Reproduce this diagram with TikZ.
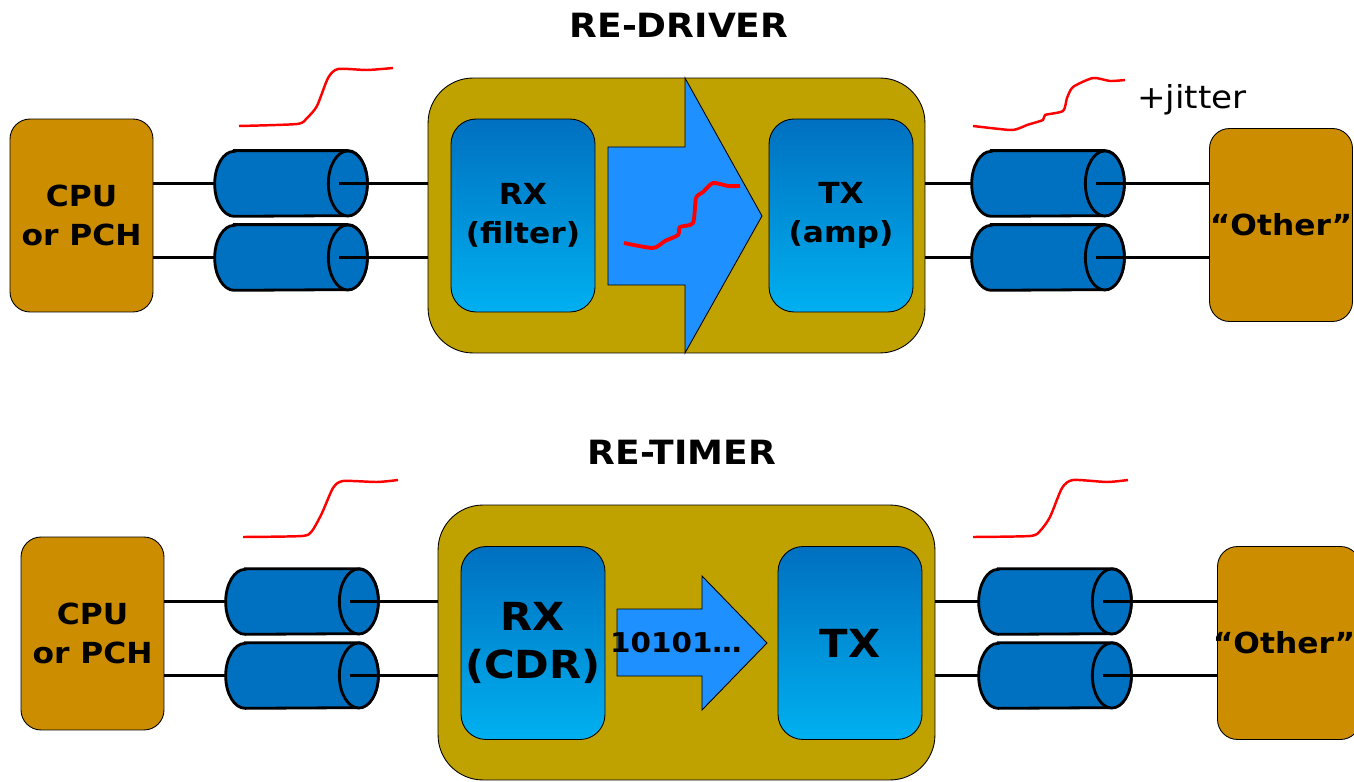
\documentclass[tikz,border=0pt]{standalone}
\usepackage{fontspec}
\setmainfont{DejaVu Sans}[FakeStretch=1.08]
\usepackage{tikz}
\usetikzlibrary{calc}
\definecolor{chipgold}{RGB}{204, 142, 0}
\definecolor{boxolive}{RGB}{191, 162, 0}
\definecolor{cabblue}{RGB}{0, 112, 192}
\definecolor{blocktop}{RGB}{0, 112, 192}
\definecolor{blockbot}{RGB}{0, 176, 240}
\definecolor{flowblue}{RGB}{30, 144, 255}

\tikzset{
  chip/.style={draw=black, line width=0.5pt, fill=chipgold, rounded corners=0.4cm,
    minimum width=2.86cm, minimum height=3.86cm, align=center, inner sep=0pt,
    font=\fontsize{16.5}{22.7}\selectfont\bfseries},
  repeater/.style={draw=black, line width=0.5pt, fill=boxolive, rounded corners=0.9cm,
    minimum width=9.94cm, minimum height=5.5cm},
  block/.style={draw=black, line width=0.5pt, top color=blocktop, bottom color=blockbot,
    rounded corners=0.5cm, minimum width=2.88cm, minimum height=3.86cm, align=center, inner sep=0pt},
  cable/.style={rectangle, minimum width=3.04cm, minimum height=1.3cm, inner sep=0pt},
  cabline/.style={draw=black, line width=1.6pt, fill=cabblue},
  wire/.style={line width=1.3pt, black},
  sig/.style={red, line width=1.4pt, line join=round},
  flow/.style={draw=black, line width=0.5pt, fill=flowblue},
  heading/.style={font=\fontsize{19}{23}\selectfont\bfseries}
}

% cylinder body drawn round a cable node
\newcommand{\drawcable}[1]{%
  \draw[cabline] ($(#1.north west)+(0.39cm,0)$) -- ($(#1.north east)+(-0.39cm,0)$)
    arc[start angle=90, end angle=-90, x radius=0.39cm, y radius=0.65cm]
    -- ($(#1.south west)+(0.39cm,0)$)
    arc[start angle=270, end angle=90, x radius=0.39cm, y radius=0.65cm] -- cycle;
  \draw[cabline] ($(#1.east)+(-0.39cm,0)$) ellipse[x radius=0.39cm, y radius=0.65cm];
}

\begin{document}
\begin{tikzpicture}[x=0.02cm, y=0.02cm]
  \useasboundingbox (0,0) rectangle (1354,781);

  % RE-DRIVER
  \node[heading] (tdrv) at (679,756) {RE-DRIVER};
  \node[chip] (cpuA) at (81.5,565.5) {CPU\\or PCH};
  \node[cable] (cabA1) at (291,597.5) {};
  \node[cable] (cabA2) at (291,523.5) {};
  \node[repeater] (drv) at (676.5,565.5) {};
  \draw[flow] (608,634) -- (685,634) -- (685,703) -- (762,565) -- (685,428) -- (685,496) -- (608,496) -- cycle;
  \node[block, font=\fontsize{16.5}{22.5}\selectfont\bfseries] (rxA) at (523,565.5) {RX\\(filter)};
  \node[block, font=\fontsize{16.5}{22.5}\selectfont\bfseries] (txA) at (841,565.5) {TX\\(amp)};
  \node[cable] (cabA3) at (1048,597.5) {};
  \node[cable] (cabA4) at (1048,523.5) {};
  \node[chip] (othA) at (1281,556) {``Other''};
  \node[font=\fontsize{18}{22}\selectfont] (jit) at (1192,681) {+jitter};

  \foreach \c in {cabA1, cabA2, cabA3, cabA4} {\drawcable{\c}}
  \foreach \c in {cabA1, cabA2} {
    \draw[wire] (cpuA.east |- \c) -- (\c.west);
    \draw[wire] ($(\c.east)+(-28,0)$) -- (drv.west |- \c);
  }
  \foreach \c in {cabA3, cabA4} {
    \draw[wire] (drv.east |- \c) -- (\c.west);
    \draw[wire] ($(\c.east)+(-28,0)$) -- (othA.west |- \c);
  }

  % edges
  \draw[sig] plot[smooth, tension=0.4] coordinates {(239,655) (297,657) (307,663) (317,675) (328,703) (338,712) (367,711) (393,713)};
  \draw[sig, line width=2.2pt] plot[smooth, tension=0.4] coordinates {(624,538) (653,533) (665,540) (678,546) (680,554) (693,558) (696,583) (703,589) (713,598) (728,595) (740,595)};
  \draw[sig] plot[smooth, tension=0.4] coordinates {(973,655) (1010,651) (1020,653) (1027,656) (1043,661) (1045,666) (1063,670) (1067,683) (1073,694) (1093,703) (1110,700) (1125,701)};

  % RE-TIMER
  \node[heading] (ttmr) at (682,329) {RE-TIMER};
  \node[chip] (cpuB) at (92.5,147.5) {CPU\\or PCH};
  \node[cable] (cabB1) at (302,179.5) {};
  \node[cable] (cabB2) at (302,105.5) {};
  \node[repeater] (tmr) at (686.5,138.5) {};
  \draw[flow] (617,172) -- (702,172) -- (702,205) -- (767,138) -- (702,71) -- (702,105) -- (617,105) -- cycle;
  \node[font=\fontsize{15.5}{18}\selectfont\bfseries] (bits) at (676,138) {10101…};
  \node[block, font=\fontsize{22}{27}\selectfont\bfseries] (rxB) at (533,138) {RX\\(CDR)};
  \node[block, font=\fontsize{22}{27}\selectfont\bfseries] (txB) at (850,138) {TX};
  \node[cable] (cabB3) at (1055,179.5) {};
  \node[cable] (cabB4) at (1055,105.5) {};
  \node[chip] (othB) at (1289,138) {};
  \node[font=\fontsize{16.5}{22.7}\selectfont\bfseries] (othBtxt) at (1284,138) {``Other''};

  \foreach \c in {cabB1, cabB2, cabB3, cabB4} {\drawcable{\c}}
  \foreach \c in {cabB1, cabB2} {
    \draw[wire] (cpuB.east |- \c) -- (\c.west);
    \draw[wire] ($(\c.east)+(-28,0)$) -- (tmr.west |- \c);
  }
  \foreach \c in {cabB3, cabB4} {
    \draw[wire] (tmr.east |- \c) -- (\c.west);
    \draw[wire] ($(\c.east)+(-28,0)$) -- (othB.west |- \c);
  }

  \draw[sig] plot[smooth, tension=0.4] coordinates {(243,244) (302,245) (312,250) (322,268) (333,293) (343,300) (377,299) (398,301)};
  \draw[sig] plot[smooth, tension=0.4] coordinates {(973,244) (1030,245) (1040,250) (1050,264) (1062,293) (1073,301) (1107,299) (1128,301)};
\end{tikzpicture}
\end{document}
